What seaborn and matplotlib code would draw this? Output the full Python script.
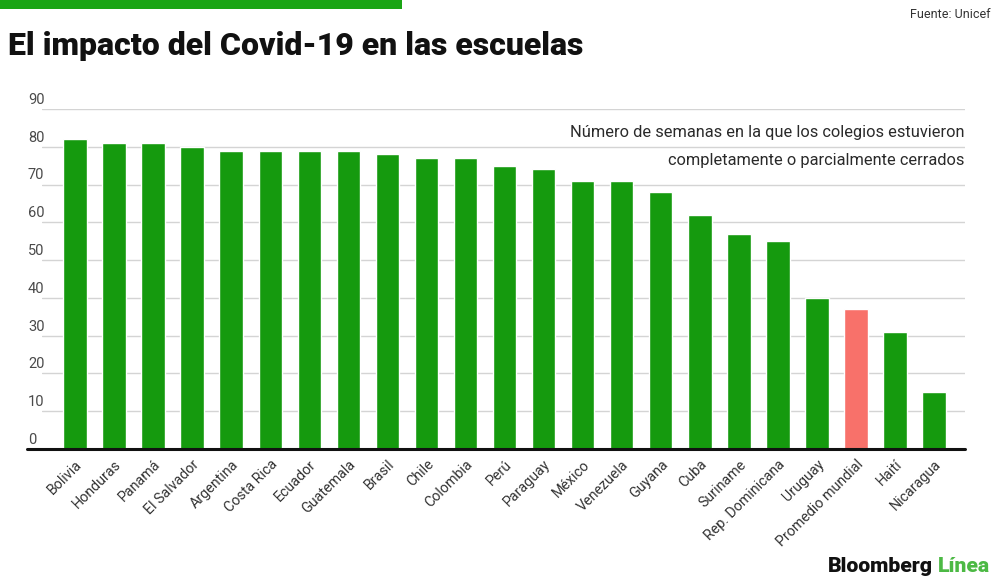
import matplotlib
matplotlib.use("Agg")
import matplotlib.pyplot as plt
from matplotlib.patches import Rectangle
import seaborn as sns
import pandas as pd

paises = ["Bolivia", "Honduras", "Panamá", "El Salvador", "Argentina", "Costa Rica",
          "Ecuador", "Guatemala", "Brasil", "Chile", "Colombia", "Perú", "Paraguay",
          "México", "Venezuela", "Guyana", "Cuba", "Suriname", "Rep. Dominicana",
          "Uruguay", "Promedio mundial", "Haití", "Nicaragua"]
semanas = [82, 81, 81, 80, 79, 79, 79, 79, 78, 77, 77, 75, 74,
           71, 71, 68, 62, 57, 55, 40, 37, 31, 15]
destacado = "Promedio mundial"
yticks = [0, 10, 20, 30, 40, 50, 60, 70, 80, 90]

GREEN = "#159a0e"
RED = "#f8716a"

sns.set_theme(style="white")
plt.rcParams["font.family"] = ["Roboto", "DejaVu Sans"]

df = pd.DataFrame({"pais": paises, "semanas": semanas})
df["grupo"] = ["d" if p == destacado else "n" for p in paises]

W, H = 1000, 583
fig = plt.figure(figsize=(W / 100, H / 100), dpi=100)
ax = fig.add_axes([42 / W, 1 - 449 / H, (965 - 42) / W, (449 - 109) / H])

sns.barplot(data=df, x="pais", y="semanas", hue="grupo",
            palette={"n": GREEN, "d": RED}, width=0.6, legend=False,
            saturation=1, ax=ax, zorder=3)

ax.set_xlim(-0.845, len(paises) - 1 + 0.79)
ax.set_ylim(0, 90)
ax.set_xlabel("")
ax.set_ylabel("")
for s in ax.spines.values():
    s.set_visible(False)

ax.set_yticks(yticks)
ax.set_yticklabels([])
ax.tick_params(axis="y", length=0)
ax.yaxis.grid(True, color="#d4d4d4", linewidth=1)
ax.set_axisbelow(True)
for v in yticks:
    ax.text(-14 / 923, v + 0.55, str(v), transform=ax.get_yaxis_transform(),
            ha="left", va="bottom", fontsize=10.5, color="#4a4a4a")

ax.axhline(0, xmin=-15 / 923, xmax=1, color="#111111", linewidth=2.2,
           clip_on=False, zorder=5)

ax.tick_params(axis="x", length=0, pad=6)
for lbl in ax.get_xticklabels():
    lbl.set_rotation(45)
    lbl.set_ha("right")
    lbl.set_rotation_mode("anchor")
    lbl.set_fontsize(10.3)
    lbl.set_color("#333333")

ax.text(0.9995, 1 - (132 - 109) / 340,
        "Número de semanas en la que los colegios estuvieron",
        transform=ax.transAxes, ha="right", va="center", fontsize=11.8, color="#2a2a2a")
ax.text(0.9995, 1 - (160 - 109) / 340,
        "completamente o parcialmente cerrados",
        transform=ax.transAxes, ha="right", va="center", fontsize=11.8, color="#2a2a2a")

fig.patches.append(Rectangle((0, 1 - 9 / H), 402 / W, 9 / H, transform=fig.transFigure,
                             facecolor="#1aa515", edgecolor="none"))

fig.text(8 / W, 1 - 55 / H, "El impacto del Covid-19 en las escuelas",
         ha="left", va="baseline", fontsize=23, fontweight="heavy", color="#111111")
fig.text(990 / W, 1 - 15 / H, "Fuente: Unicef", ha="right", va="center",
         fontsize=9, color="#333333")

t2 = fig.text(990 / W, 1 - 572 / H, "Línea", ha="right", va="baseline",
              fontsize=15.2, fontweight="heavy", color="#4cb944")
r = fig.canvas.get_renderer()
bb = t2.get_window_extent(renderer=r)
fig.text((bb.x0 - 5) / W, 1 - 572 / H, "Bloomberg", ha="right", va="baseline",
         fontsize=15.2, fontweight="heavy", color="#111111")

fig.savefig("out.png", dpi=100, facecolor="white")
